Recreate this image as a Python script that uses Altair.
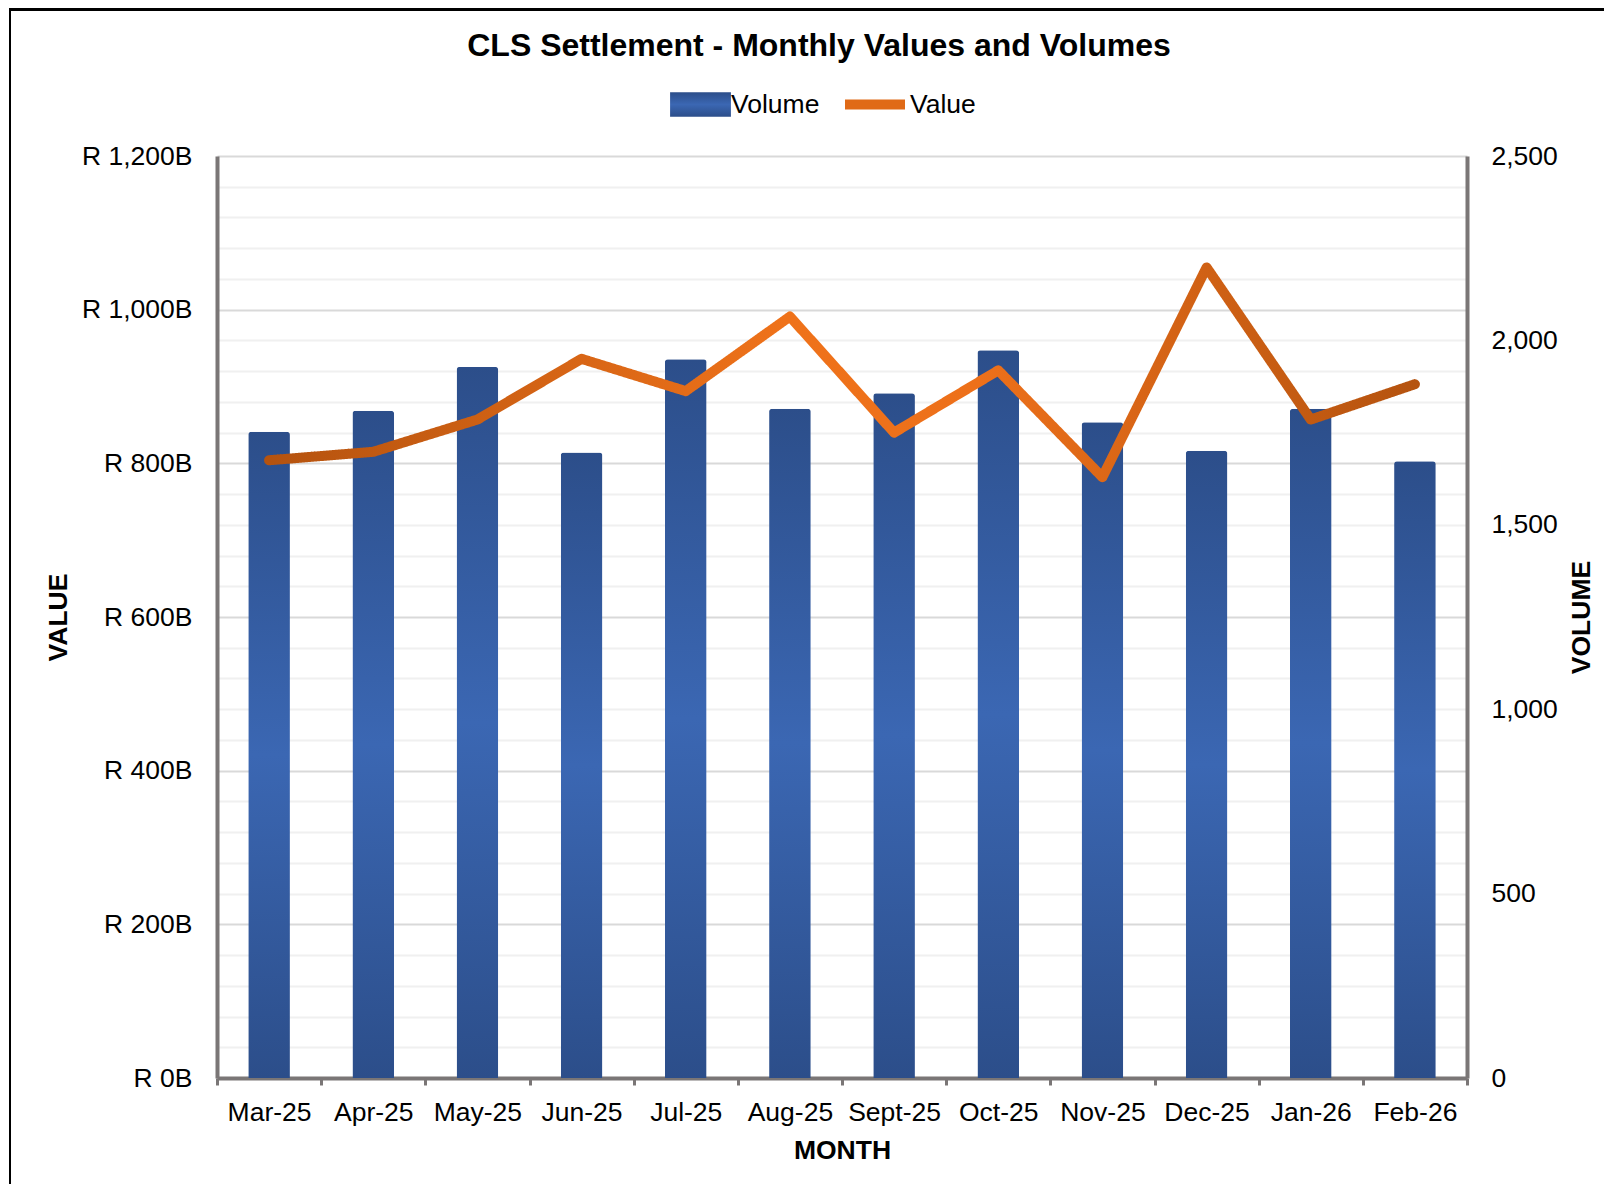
import altair as alt
import pandas as pd

months = ["Mar-25", "Apr-25", "May-25", "Jun-25", "Jul-25", "Aug-25",
          "Sept-25", "Oct-25", "Nov-25", "Dec-25", "Jan-26", "Feb-26"]
volumes = [1752, 1809, 1928, 1696, 1949, 1815, 1857, 1973, 1778, 1701, 1815, 1672]
values_rb = [804, 815, 857, 936, 894, 991, 840, 921, 782, 1055, 857, 903]

value_ticks = list(range(0, 1201, 40))
volume_ticks = [0, 500, 1000, 1500, 2000, 2500]

df = pd.DataFrame({"Month": months, "Volume": volumes, "Value": values_rb})

FONT = "Liberation Sans"
AXIS_GRAY = "#7A7676"
FS = 26.5

x_enc = alt.X(
    "Month:N", sort=months,
    scale=alt.Scale(paddingInner=0, paddingOuter=0),
    axis=alt.Axis(title="MONTH", labelAngle=0, tickBand="extent", ticks=True,
                  tickSize=7, tickWidth=3, tickColor=AXIS_GRAY,
                  domainColor=AXIS_GRAY, domainWidth=4, labelPadding=14,
                  labelFontSize=FS, labelFont=FONT, labelColor="black",
                  titleFontSize=FS, titleFont=FONT, titleFontWeight="bold",
                  titleColor="black", titlePadding=12, grid=False),
)

bar_grad = alt.Gradient(
    gradient="linear",
    stops=[alt.GradientStop(color="#2C4E8A", offset=0),
           alt.GradientStop(color="#3B67B3", offset=0.5),
           alt.GradientStop(color="#2C4E8A", offset=1)],
    x1=0, x2=0, y1=0, y2=1,
)
line_grad = alt.Gradient(
    gradient="linear",
    stops=[alt.GradientStop(color="#B5530F", offset=0),
           alt.GradientStop(color="#EF721A", offset=0.45),
           alt.GradientStop(color="#ED701A", offset=0.62),
           alt.GradientStop(color="#B5530F", offset=1)],
    x1=0, x2=1, y1=0, y2=0,
)

rect_path = "M-1,-0.4L1,-0.4L1,0.4L-1,0.4Z"

bars = alt.Chart(df).transform_calculate(sv="'Volume'").mark_bar(
    width=alt.RelativeBandSize(0.4), color=bar_grad,
    cornerRadiusTopLeft=3, cornerRadiusTopRight=3,
).encode(
    x=x_enc,
    y=alt.Y("Volume:Q", scale=alt.Scale(domain=[0, 2500], nice=False),
            axis=alt.Axis(orient="right", title="VOLUME", values=volume_ticks,
                          format=",.0f", grid=False, ticks=False,
                          domainColor=AXIS_GRAY, domainWidth=4, labelPadding=24,
                          labelFontSize=FS, labelFont=FONT, labelColor="black",
                          titleFontSize=FS, titleFont=FONT, titleFontWeight="bold",
                          titleColor="black", titleAngle=270, titlePadding=38)),
    opacity=alt.Opacity(
        "sv:N",
        scale=alt.Scale(domain=["Volume"], range=[1, 1]),
        legend=alt.Legend(title=None, orient="none", legendX=453, legendY=-82,
                          symbolType=rect_path, symbolSize=3700,
                          symbolFillColor="#3462AE", symbolStrokeWidth=0,
                          symbolOpacity=1,
                          labelFontSize=FS, labelFont=FONT, labelColor="black",
                          labelOffset=0, padding=0),
    ),
)

line = alt.Chart(df).transform_calculate(sl="'Value'").mark_line(
    stroke=line_grad, strokeWidth=10, strokeCap="round", strokeJoin="round",
).encode(
    x=x_enc,
    y=alt.Y("Value:Q", scale=alt.Scale(domain=[0, 1200], nice=False),
            axis=alt.Axis(orient="left", title="VALUE", values=value_ticks,
                          labelExpr="datum.value % 200 === 0 ? 'R ' + format(datum.value, ',') + 'B' : ''",
                          grid=True,
                          gridColor=alt.condition("datum.value % 200 === 0",
                                                  alt.value("#D9D9D9"), alt.value("#F0F0F0")),
                          gridWidth=2, ticks=False,
                          domainColor=AXIS_GRAY, domainWidth=4, labelPadding=25,
                          labelFontSize=FS, labelFont=FONT, labelColor="black",
                          titleFontSize=FS, titleFont=FONT, titleFontWeight="bold",
                          titleColor="black", titlePadding=9)),
    strokeDash=alt.StrokeDash(
        "sl:N",
        scale=alt.Scale(domain=["Value"], range=[[1, 0]]),
        legend=alt.Legend(title=None, orient="none", legendX=623, legendY=-86.5,
                          symbolType="stroke", symbolSize=3600,
                          symbolStrokeColor="#E06A17", symbolStrokeWidth=10,
                          labelFontSize=FS, labelFont=FONT, labelColor="black",
                          labelOffset=0, padding=0),
    ),
)

frame_df = pd.DataFrame({"k": [0]})
frame_left = alt.Chart(frame_df).mark_rule(color="black", strokeWidth=2).encode(
    x=alt.value(-207), y=alt.value(-148), y2=alt.value(1040))
frame_top = alt.Chart(frame_df).mark_rule(color="black", strokeWidth=3).encode(
    x=alt.value(-208), x2=alt.value(1400), y=alt.value(-146.5))

chart = alt.layer(frame_left, frame_top, bars, line).resolve_scale(
    y="independent"
).properties(
    width=1250, height=922,
    title=alt.TitleParams("CLS Settlement - Monthly Values and Volumes",
                          fontSize=32, font=FONT, fontWeight="bold",
                          color="black", anchor="middle", dx=-23, offset=-56),
    autosize=alt.AutoSizeParams(type="none"),
    padding={"left": 209, "top": 148, "right": 137, "bottom": 106},
).configure_view(stroke=None)

chart.save("out.html", embed_options={"renderer": "svg", "actions": False})
